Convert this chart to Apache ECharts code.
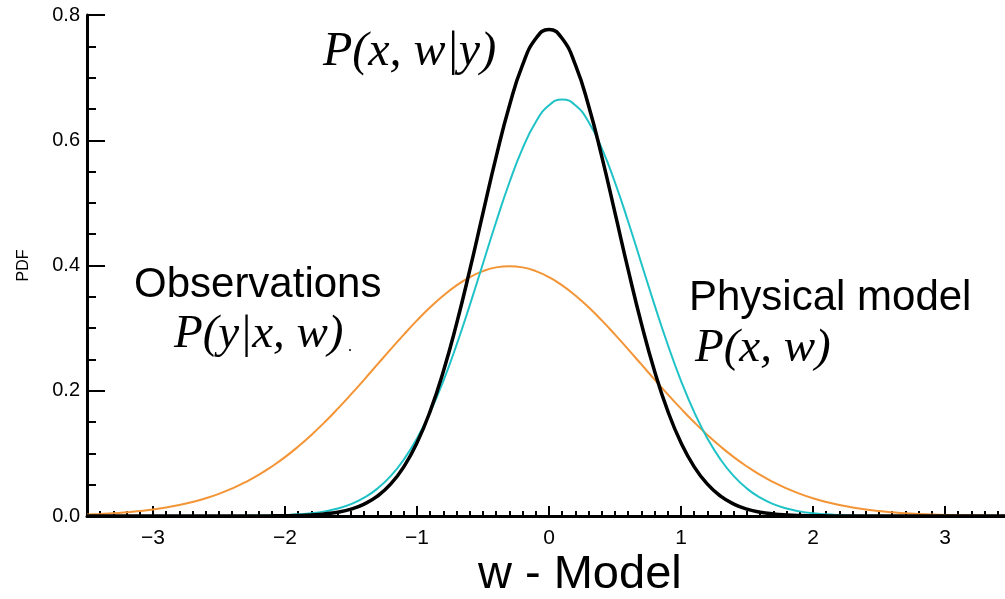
<!DOCTYPE html>
<html>
<head>
<meta charset="utf-8">
<script src="https://cdn.jsdelivr.net/npm/echarts@6/dist/echarts.min.js"></script>
<style>
html,body{margin:0;padding:0;background:#fff;}
#chart{width:1005px;height:599px;}
</style>
</head>
<body>
<div id="chart"></div>
<script>
// x positions (w - Model)
const xs = [-3.5,-3.4,-3.3,-3.2,-3.1,-3.0,-2.9,-2.8,-2.7,-2.6,-2.5,-2.4,-2.3,-2.2,-2.1,-2.0,-1.9,-1.8,-1.7,-1.6,-1.5,-1.4,-1.3,-1.2,-1.1,-1.0,-0.9,-0.8,-0.7,-0.6,-0.5,-0.4,-0.3,-0.2,-0.1,0.0,0.1,0.2,0.3,0.4,0.5,0.6,0.7,0.8,0.9,1.0,1.1,1.2,1.3,1.4,1.5,1.6,1.7,1.8,1.9,2.0,2.1,2.2,2.3,2.4,2.5,2.6,2.7,2.8,2.9,3.0,3.1,3.2,3.3,3.4,3.5];
// Observations P(y|x,w) - orange
const observations = [0.0024,0.0033,0.0044,0.0060,0.0079,0.0104,0.0136,0.0175,0.0224,0.0283,0.0355,0.0440,0.0540,0.0656,0.0790,0.0940,0.1109,0.1295,0.1497,0.1714,0.1942,0.2179,0.2420,0.2661,0.2897,0.3123,0.3332,0.3521,0.3683,0.3814,0.3910,0.3970,0.3989,0.3970,0.3910,0.3814,0.3683,0.3521,0.3332,0.3123,0.2897,0.2661,0.2420,0.2179,0.1942,0.1714,0.1497,0.1295,0.1109,0.0940,0.0790,0.0656,0.0540,0.0440,0.0355,0.0283,0.0224,0.0175,0.0136,0.0104,0.0079,0.0060,0.0044,0.0033,0.0024,0.0017,0.0012,0.0009,0.0006,0.0004,0.0003];
// Physical model P(x,w) - cyan
const physical = [0,0,0,0,0,0,0,0,0,0,0,0.0001,0.0002,0.0004,0.0008,0.0015,0.0026,0.0044,0.0074,0.0120,0.0190,0.0292,0.0437,0.0636,0.0900,0.1239,0.1658,0.2159,0.2734,0.3367,0.4033,0.4699,0.5325,0.5869,0.6291,0.6558,0.6650,0.6558,0.6291,0.5869,0.5325,0.4699,0.4033,0.3367,0.2734,0.2159,0.1658,0.1239,0.0900,0.0636,0.0437,0.0292,0.0190,0.0120,0.0074,0.0044,0.0026,0.0015,0.0008,0.0004,0.0002,0.0001,0,0,0,0,0,0,0,0,0];
// Posterior P(x,w|y) - black
const posterior = [0,0,0,0,0,0,0,0,0,0,0,0,0,0.0001,0.0002,0.0004,0.0008,0.0017,0.0033,0.0061,0.0110,0.0190,0.0316,0.0508,0.0785,0.1169,0.1675,0.2312,0.3072,0.3929,0.4840,0.5739,0.6552,0.7203,0.7624,0.7770,0.7624,0.7203,0.6552,0.5739,0.4840,0.3929,0.3072,0.2312,0.1675,0.1169,0.0785,0.0508,0.0316,0.0190,0.0110,0.0061,0.0033,0.0017,0.0008,0.0004,0.0002,0.0001,0,0,0,0,0,0,0,0,0,0,0,0,0];
// tick labels
const xMajorTicks = [-3,-2,-1,0,1,2,3];
const yTicks = [0,0.2,0.4,0.6,0.8];

const minorX = [];
for (let i = -35; i <= 35; i++) { if (i % 10 !== 0) minorX.push(i / 10); }

function pairs(ys) { return xs.map((x, i) => [x, ys[i]]); }

const chart = echarts.init(document.getElementById('chart'), null, {renderer: 'canvas'});
const axisFont = 'Liberation Sans, Arial, Helvetica, sans-serif';
const mathFont = 'Liberation Serif, Times New Roman, serif';

const option = {
  animation: false,
  backgroundColor: '#fff',
  grid: {left: 87, right: -6, top: 15, bottom: 83, containLabel: false, outerBoundsMode: 'none'},
  xAxis: [{
    type: 'value', min: -3.5, max: 3.5,
    axisLine: {show: true, onZero: false, lineStyle: {color: '#000', width: 3}},
    axisTick: {show: true, inside: true, length: 10, customValues: xMajorTicks, lineStyle: {color: '#000', width: 2}},
    axisLabel: {show: true, customValues: xMajorTicks, margin: 12, color: '#000', fontSize: 21, fontFamily: axisFont,
      formatter: v => v < 0 ? '\u2212' + Math.abs(v) : String(v)},
    splitLine: {show: false}
  }, {
    type: 'value', min: -3.5, max: 3.5, position: 'bottom',
    axisLine: {show: false, onZero: false},
    axisTick: {show: true, inside: true, length: 5, customValues: minorX, lineStyle: {color: '#000', width: 2}},
    axisLabel: {show: false},
    splitLine: {show: false}
  }],
  yAxis: {
    type: 'value', min: 0, max: 0.8, interval: 0.2,
    name: 'PDF', nameLocation: 'middle', nameGap: 55, nameRotate: 90,
    nameTextStyle: {color: '#000', fontSize: 16, fontFamily: axisFont},
    axisLine: {show: true, onZero: false, lineStyle: {color: '#000', width: 3}},
    axisTick: {show: true, inside: true, length: 18, lineStyle: {color: '#000', width: 2}},
    minorTick: {show: true, splitNumber: 4, length: 9, lineStyle: {color: '#000', width: 2}},
    axisLabel: {color: '#000', fontSize: 20, margin: 7, fontFamily: axisFont, formatter: v => v.toFixed(1)},
    splitLine: {show: false}
  },
  series: [
    {name: 'Observations', type: 'line', data: pairs(observations), smooth: true, showSymbol: false,
     lineStyle: {color: '#f39536', width: 2}, z: 2},
    {name: 'Physical model', type: 'line', data: pairs(physical), smooth: true, showSymbol: false,
     lineStyle: {color: '#1fc2c6', width: 2}, z: 3},
    {name: 'Posterior', type: 'line', data: pairs(posterior), smooth: true, showSymbol: false,
     lineStyle: {color: '#000', width: 3.5}, z: 4}
  ],
  graphic: [
    {type: 'text', left: 323, top: 28, style: {text: 'P(x, w|y)', font: 'italic 48px ' + mathFont, fill: '#000'}},
    {type: 'text', left: 134, top: 264, style: {text: 'Observations', font: '42px ' + axisFont, fill: '#000'}},
    {type: 'text', left: 174, top: 311, style: {text: 'P(y|x, w)', font: 'italic 47px ' + mathFont, fill: '#000'}},
    {type: 'text', left: 348, top: 339, style: {text: '.', font: '16px ' + mathFont, fill: '#000'}},
    {type: 'text', left: 689, top: 277, style: {text: 'Physical model', font: '42px ' + axisFont, fill: '#000'}},
    {type: 'text', left: 695, top: 325, style: {text: 'P(x, w)', font: 'italic 47px ' + mathFont, fill: '#000'}},
    {type: 'text', left: 478, top: 552, style: {text: 'w - Model', font: '47px ' + axisFont, fill: '#000'}}
  ]
};
chart.setOption(option);
</script>
</body>
</html>
